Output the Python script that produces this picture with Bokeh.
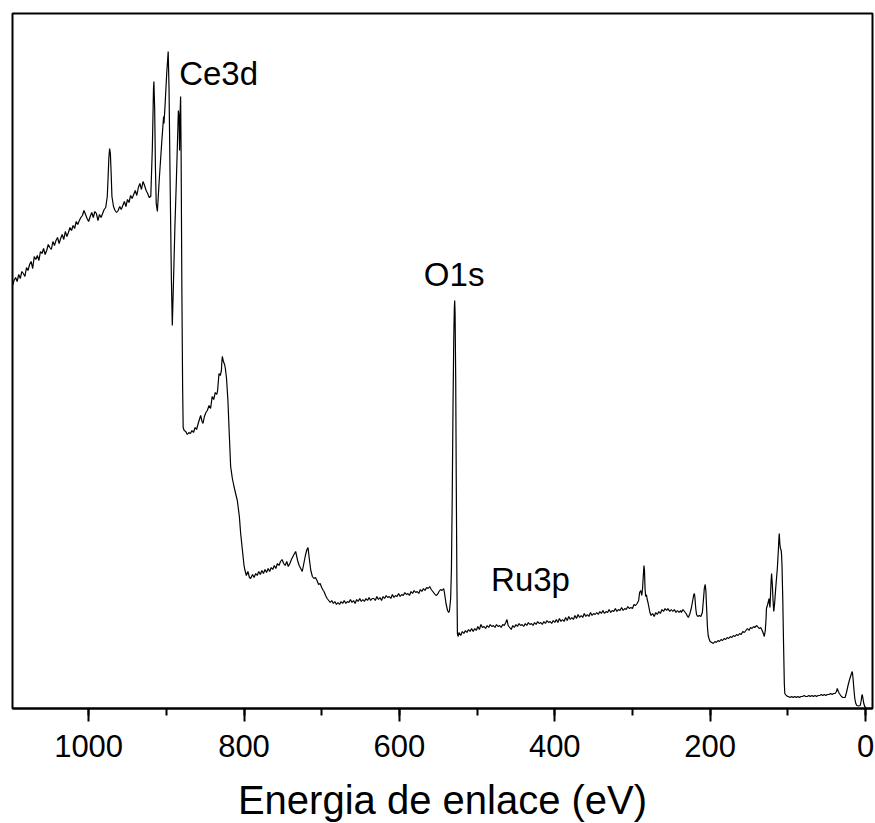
from bokeh.plotting import figure
from bokeh.models import Range1d, SingleIntervalTicker
from bokeh.core.properties import value
from bokeh.embed import file_html
from bokeh.resources import INLINE

# XPS survey spectrum: binding energy (eV) and intensity (a.u.), by region

# Background, O KLL and Ce3d multiplet
be_ce3d = [1098, 1096, 1094, 1092, 1090, 1088, 1086, 1084, 1082, 1080,
           1078, 1076, 1074, 1072, 1070, 1068, 1066, 1064, 1062, 1060,
           1058, 1056, 1054, 1052, 1050, 1048, 1046, 1044, 1042, 1040,
           1038, 1036, 1034, 1032, 1030, 1028, 1026, 1024, 1022, 1020,
           1018, 1016, 1014, 1012, 1010, 1008, 1006, 1004, 1002, 1000,
           998, 996, 994, 992, 990, 988, 986, 984, 982, 980,
           978, 976, 975, 974, 973, 972, 971, 970, 968, 966,
           964, 962, 960, 958, 956, 954, 952, 950, 948, 946,
           944, 942, 940, 938, 936, 934, 932, 930, 928, 926,
           924, 922, 920, 918, 916.5, 916, 915, 914, 913, 911.5,
           909, 906, 903.5, 903, 901.5, 899.5, 898.2, 897.6, 896.5, 895,
           893.5, 892.3, 891, 889, 887, 885.5, 884.5, 883.5, 882.9, 882.3,
           881.6, 881, 880, 879]
int_ce3d = [423, 428, 431, 427, 434, 430, 437, 435, 432, 441,
            438, 444, 447, 440, 452, 449, 453, 448, 457, 455,
            460, 454, 458, 464, 461, 459, 467, 463, 468, 471,
            465, 470, 474, 469, 477, 472, 476, 481, 478, 483,
            480, 487, 484, 488, 491, 493, 498, 494, 490, 487,
            492, 496, 491, 497, 495, 488, 494, 491, 495, 499,
            501, 512, 530, 550, 560, 555, 535, 512, 502, 498,
            496, 498, 502, 499, 503, 507, 502, 509, 506, 513,
            510, 514, 518, 513, 521, 525, 519, 527, 523, 518,
            515, 511, 512, 560, 620, 627, 600, 540, 505, 497,
            530, 565, 592, 585, 605, 635, 650, 657, 620, 520,
            430, 383, 420, 480, 530, 570, 598, 590, 558, 595,
            612, 560, 420, 320]

# Ce MNN Auger region and flat background down to the O1s
be_mnn = [878.3, 877, 875, 873, 871, 869, 867, 865, 863, 861,
          859, 857, 855.8, 854, 852.8, 851, 849, 847.2, 845, 843,
          841, 839, 837, 835, 834, 832.2, 830.5, 829.1, 828.5, 827.9,
          826.5, 825, 824, 822.5, 820.7, 819, 817.2, 815, 812.9, 810.5,
          808.6, 806, 804.3, 802, 800, 799, 797, 795, 793, 791.5,
          789, 787, 785, 783, 781, 779, 777, 775, 773, 771,
          769, 767, 765, 763, 761, 759, 757, 755, 753, 751,
          749, 747, 745, 743, 741, 739, 737, 735, 733.5, 731,
          729, 727, 725, 723, 721, 719, 717.6, 716, 714, 712,
          710, 708, 706, 704, 702, 700, 698, 697, 695, 693,
          691, 689, 687, 685, 683, 681, 679, 677, 675, 673,
          671, 669, 667, 665, 663, 661, 659, 657, 655, 653,
          651, 649, 647, 645, 643, 641, 639, 637, 635, 633,
          631, 629, 627, 625, 623, 621, 619, 617, 615, 613,
          611, 609, 607, 605, 603, 601, 599, 597, 595, 593,
          591, 589, 587, 585, 583, 581, 579, 577, 575, 573,
          571, 569, 567, 565, 563, 561, 559, 557, 555, 553,
          551, 549, 547, 545, 543, 542, 540, 538, 536.5, 535.5]
int_mnn = [281, 278, 277, 274, 276, 275, 278, 276, 281, 279,
           285, 290, 293, 287, 285, 292, 296, 298, 303, 300,
           312, 309, 316, 314, 318, 335, 333, 338, 347, 352,
           347, 344, 340, 330, 308, 275, 242, 230, 222, 214,
           208, 192, 175, 158, 143, 139, 133, 137, 131, 130,
           134, 131, 135, 133, 137, 134, 138, 135, 139, 136,
           140, 137, 141, 139, 143, 140, 145, 143, 147, 149,
           145, 143, 147, 142, 145, 149, 152, 155, 157, 148,
           143, 140, 137, 145, 153, 159, 161, 150, 138, 132,
           130, 131, 128, 124, 125, 121, 118, 117, 113, 110,
           108, 106, 108, 105, 107, 104, 106, 104, 107, 105,
           108, 105, 107, 106, 109, 106, 108, 105, 109, 107,
           110, 107, 109, 107, 110, 108, 111, 108, 110, 110,
           108, 112, 109, 111, 108, 112, 110, 113, 111, 112,
           110, 114, 111, 113, 112, 115, 112, 114, 113, 116,
           114, 115, 113, 117, 115, 118, 116, 117, 115, 119,
           117, 120, 118, 121, 120, 122, 119, 117, 115, 113,
           114, 117, 119, 118, 120, 116, 105, 98, 96, 98]

# O1s line and the Ru3p region of the background
be_o1s = [534, 533, 532, 531, 530, 529.3, 528.8, 528.3, 527.5, 526.8,
          526, 525.3, 524.5, 523.2, 521, 519, 517, 515, 513, 511,
          509, 507, 505, 503, 501, 499, 497, 495, 493, 491,
          489, 487, 485, 483, 481, 479, 477, 475, 473, 471,
          469, 467, 465, 463, 461.5, 460, 458, 456, 454, 452,
          450, 448, 446, 444, 442, 440, 438, 436, 434, 432,
          430, 428, 426, 424, 422, 420, 418, 416, 414, 412,
          410, 408, 406, 404, 402, 400, 398, 396, 394, 392,
          390, 388, 386, 384, 382, 380, 378, 376, 374, 372,
          370, 368, 366, 364, 362, 360, 358, 356, 354, 352,
          350, 348, 346, 344, 342, 340, 338, 336, 334, 332,
          330, 328, 326, 324, 322, 320, 318, 316, 314, 312,
          310, 308, 306, 304, 302, 300, 298, 296, 294, 292]
int_o1s = [110, 140, 210, 300, 370, 400, 408, 395, 330, 230,
           130, 75, 72, 76, 73, 77, 75, 78, 76, 79,
           77, 80, 77, 80, 78, 82, 79, 84, 81, 82,
           80, 83, 81, 84, 82, 83, 81, 84, 82, 83,
           81, 84, 83, 86, 89, 83, 81, 79, 83, 81,
           84, 82, 85, 83, 84, 82, 85, 83, 86, 84,
           85, 83, 86, 84, 87, 85, 86, 84, 87, 85,
           88, 86, 87, 85, 88, 86, 89, 86, 90, 87,
           89, 87, 91, 88, 92, 89, 91, 89, 93, 90,
           94, 91, 93, 91, 95, 92, 94, 92, 96, 93,
           95, 94, 96, 94, 97, 95, 98, 95, 97, 96,
           99, 96, 98, 97, 100, 97, 99, 98, 101, 98,
           100, 99, 102, 100, 101, 100, 104, 103, 105, 108]

# C1s/Ru3d, Ce4p, Ce4d and shallow levels
be_low = [290.8, 289.3, 288, 287, 286, 285.2, 284.5, 283.8, 283, 282,
          281, 280, 279, 277.5, 276, 274, 272, 270, 268, 266,
          264, 262, 260, 258, 256, 254.3, 252, 250, 248, 246,
          244, 242, 240, 238, 237, 235, 233, 231, 229, 228,
          226, 224, 222, 221, 220.2, 219.5, 218.5, 217.5, 216, 214,
          212, 210, 208.5, 207.5, 206.3, 205.5, 204.5, 203.5, 202.5, 201.5,
          200, 198, 196, 194, 192, 190, 188, 186, 184, 182,
          180, 178, 176, 174, 172, 170, 168, 166, 164, 162,
          160, 158, 156, 154, 152, 150, 148, 146, 144, 142.5,
          140, 139, 137, 135, 133, 132, 131, 130.3, 129, 128,
          127.5, 126, 125, 124.2, 123.6, 123, 122.2, 121.5, 120.9, 120,
          119, 118.1, 117, 115.8, 114.8, 113.5, 112.2, 111.5, 111, 110.3,
          109.5, 108.5, 108, 107.5, 106.5, 105.5, 104.5, 103.9, 102, 100,
          99.4, 97, 95, 93, 91, 89, 87, 85, 83, 81,
          79, 77, 75, 73, 71, 69, 67, 65, 63, 61,
          59, 57, 55, 53, 51, 49, 47, 45, 43, 41,
          39.1, 37.5, 36.3, 35, 33.7, 31, 29, 27, 26.3, 24.5,
          22.5, 20.5, 18.5, 17, 16, 15, 13.8, 12.5, 11.2, 9,
          6.8, 5.5, 4.7, 4.1, 3.3, 2.2, 1, -0.9]
int_low = [116, 118, 113, 120, 133, 143, 138, 120, 112, 114,
           109, 106, 102, 96, 93, 95, 92, 96, 94, 97,
           95, 99, 97, 100, 98, 100, 97, 99, 97, 99,
           96, 98, 96, 98, 96, 99, 97, 95, 92, 91,
           95, 101, 110, 114, 115, 110, 100, 94, 92, 93,
           92, 96, 110, 120, 124, 118, 100, 82, 73, 70,
           67, 66, 65, 67, 66, 68, 67, 69, 68, 70,
           69, 71, 70, 72, 71, 73, 72, 74, 73, 75,
           74, 77, 76, 78, 80, 78, 81, 80, 82, 81,
           83, 82, 80, 81, 78, 76, 74, 72, 78, 90,
           100, 104, 107, 110, 105, 101, 115, 128, 135, 125,
           108, 97, 105, 118, 128, 140, 158, 170, 175, 165,
           160, 158, 153, 143, 110, 65, 25, 15, 13, 12,
           12, 11, 12, 11, 12, 11, 12, 11, 12, 12,
           13, 12, 12, 13, 12, 13, 12, 13, 12, 13,
           13, 14, 13, 14, 13, 14, 14, 15, 14, 15,
           15, 17, 20, 17, 15, 12, 11, 11, 11, 16,
           23, 29, 34, 37, 30, 20, 10, 5, 3, 2.5,
           3, 8, 13, 14, 10, 5, 2, 0.5]

# Peak labels
label_text = ["Ce3d", "O1s", "Ru3p"]
label_be = [883.5, 568.5, 482.0]
label_int = [635.5, 434.5, 129.0]

binding_energy = be_ce3d + be_mnn + be_o1s + be_low
intensity = int_ce3d + int_mnn + int_o1s + int_low

FONT = "Liberation Sans"

p = figure(
    frame_width=860, frame_height=695,
    x_range=Range1d(1098, -9), y_range=Range1d(0, 695),
    y_axis_location=None,
    output_backend="svg", toolbar_location=None,
    min_border_left=12, min_border_right=3,
    min_border_top=13, min_border_bottom=0,
)
p.background_fill_color = "white"
p.border_fill_color = "white"
p.outline_line_color = "black"
p.outline_line_width = 2
p.xgrid.visible = False
p.ygrid.visible = False

p.line(binding_energy, intensity, line_color="black", line_width=1.2)

p.text(x=label_be, y=label_int, text=label_text,
       text_font=value(FONT), text_font_size="33px",
       text_color="black", text_align="left", text_baseline="alphabetic")

ax = p.xaxis[0]
ax.ticker = SingleIntervalTicker(interval=200, num_minor_ticks=2)
ax.axis_line_color = "black"
ax.axis_line_width = 2
ax.major_tick_line_color = "black"
ax.major_tick_line_width = 2
ax.major_tick_in = 0
ax.major_tick_out = 13
ax.minor_tick_line_color = "black"
ax.minor_tick_line_width = 2
ax.minor_tick_in = 0
ax.minor_tick_out = 7
ax.major_label_text_font = FONT
ax.major_label_text_font_size = "31px"
ax.major_label_text_color = "black"
ax.major_label_standoff = 13
ax.axis_label = "Energia de enlace (eV)"
ax.axis_label_text_font = FONT
ax.axis_label_text_font_size = "40px"
ax.axis_label_text_font_style = "normal"
ax.axis_label_text_color = "black"
ax.axis_label_standoff = 18

open("out.html", "w").write(file_html(p, INLINE))
